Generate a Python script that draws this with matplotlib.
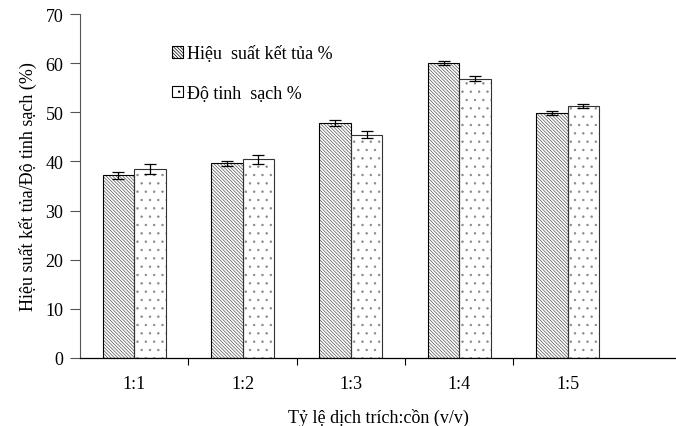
import matplotlib
matplotlib.use("Agg")
import matplotlib.pyplot as plt
from matplotlib.patches import Patch
import numpy as np

categories = ["1:1", "1:2", "1:3", "1:4", "1:5"]
hieu_suat = [37.2, 39.6, 47.8, 60.0, 49.8]
hieu_suat_err = [0.7, 0.5, 0.6, 0.4, 0.4]
do_tinh_sach = [38.4, 40.4, 45.4, 56.8, 51.3]
do_tinh_sach_err = [1.0, 0.9, 0.7, 0.5, 0.4]

plt.rcParams['font.family'] = ['Liberation Serif', 'DejaVu Serif']
plt.rcParams['hatch.linewidth'] = 0.5

fig = plt.figure(figsize=(6.76, 4.27), dpi=100)
ax = fig.add_axes([80/676, 68/427, 596/676, 344/427])

x = np.arange(len(categories))
w = 0.29
HATCH1 = '\\' * 10
HATCH2 = '..'
# hatch fills (gray hatch colour)
ax.bar(x - w/2, hieu_suat, w, color='white', edgecolor='#555555', hatch=HATCH1, linewidth=0)
ax.bar(x + w/2, do_tinh_sach, w, color='white', edgecolor='#888888', hatch=HATCH2, linewidth=0)
# outlines and error bars
ekw = dict(elinewidth=0.9, capthick=0.9, ecolor='black')
ax.bar(x - w/2, hieu_suat, w, yerr=hieu_suat_err, fill=False, edgecolor='black',
       linewidth=0.8, capsize=4, error_kw=ekw)
ax.bar(x + w/2, do_tinh_sach, w, yerr=do_tinh_sach_err, fill=False, edgecolor='#333333',
       linewidth=0.8, capsize=4, error_kw=ekw)

ax.set_xlim(-0.5, 5.0)
ax.set_ylim(0, 70)
ax.set_yticks(range(0, 71, 10))
ax.set_xticks(x)
ax.set_xticklabels(categories, fontsize=13)
ax.set_xticks(x[:-1] + 0.5, minor=True)
ax.tick_params(axis='x', which='major', length=0, pad=12)
ax.tick_params(axis='x', which='minor', length=5, direction='out', width=0.8)
ax.tick_params(axis='y', labelsize=13, length=7, direction='out', width=0.8, pad=5, color='#555555')
for s in ['top', 'right']:
    ax.spines[s].set_visible(False)
ax.spines['left'].set_color('#555555')
ax.spines['bottom'].set_linewidth(0.9)

ax.set_ylabel("Hiệu suất kết tủa/Độ tinh sạch (%)", fontsize=13, labelpad=6)
ax.set_xlabel("Tỷ lệ dịch trích:cồn (v/v)", fontsize=13, labelpad=12)

handles = [Patch(facecolor='white', edgecolor='black', hatch=HATCH1, linewidth=0.8),
           Patch(facecolor='white', edgecolor='black', hatch=HATCH2, linewidth=0.8)]
ax.legend(handles, ["Hiệu  suất kết tủa %", "Độ tinh  sạch %"], loc='upper left',
          bbox_to_anchor=(0.14, 0.935), frameon=False, fontsize=13, borderpad=0,
          handlelength=0.6, handleheight=0.6, handletextpad=0.2, labelspacing=1.25)

fig.savefig("out.png", dpi=100)
